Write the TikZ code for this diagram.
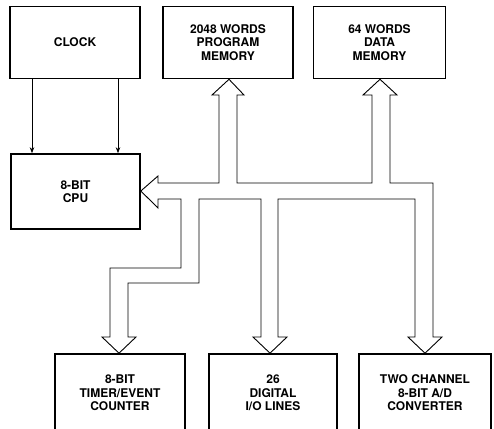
\documentclass[tikz,border=0pt]{standalone}
\usepackage{fontspec}
\setmainfont{TeX Gyre Heros}
\usetikzlibrary{arrows.meta}
\begin{document}
\begin{tikzpicture}[x=1pt,y=-1pt,
  box/.style={draw, line width=1.6pt, minimum height=72pt, align=center,
    font=\bfseries\fontsize{12}{13.5}\selectfont, inner sep=0pt},
  bus/.style={line width=0.9pt, line join=miter},
  clk/.style={line width=0.7pt, -{Stealth[length=6pt,width=4.5pt]}}]
\useasboundingbox (0,0) rectangle (494,428);
\clip (0,0) rectangle (494,428);
\node[box, minimum width=130pt] (clock) at (75,42.5) {CLOCK};
\node[box, minimum width=130pt] (pmem) at (228,42.5) {2048 WORDS\\PROGRAM\\MEMORY};
\node[box, minimum width=132pt] (dmem) at (379.5,42.5) {64 WORDS\\DATA\\MEMORY};
\node[box, minimum width=129pt, minimum height=75pt] (cpu) at (75.5,191.5) {8-BIT\\CPU};
\node[box, minimum width=130pt, minimum height=78pt] (timer) at (120,393) {8-BIT\\TIMER/EVENT\\COUNTER};
\node[box, minimum width=128pt, minimum height=78pt] (dio) at (273,393) {26\\DIGITAL\\I/O LINES};
\node[box, minimum width=132pt, minimum height=78pt] (adc) at (425,393) {TWO CHANNEL\\8-BIT A/D\\CONVERTER};
% clock lines
\draw[clk] (clock.south -| 32,0) -- (cpu.north -| 32,0);
\draw[clk] (clock.south -| 118,0) -- (cpu.north -| 118,0);
% bus outline
\draw[bus] (158,176) -- (cpu.east |- 0,191) -- (158,208) -- (158,199) -- (181,199)
  -- (181,268) -- (110,268) -- (110,337) -- (102,337) -- (timer.north -| 119,0)
  -- (136,337) -- (128,337) -- (128,283) -- (199,283) -- (199,199) -- (261,199)
  -- (261,337) -- (253,337) -- (dio.north -| 270,0) -- (287,337) -- (278,337)
  -- (278,199) -- (415,199) -- (415,337) -- (408,337) -- (adc.north -| 425,0)
  -- (442,337) -- (433,337) -- (433,183) -- (390,183) -- (390,95) -- (397,95)
  -- (dmem.south -| 380,0) -- (363,95) -- (372,95) -- (372,183) -- (237,183)
  -- (237,95) -- (244,95) -- (pmem.south -| 229,0) -- (212,95) -- (219,95)
  -- (219,183) -- (158,183) -- cycle;
\end{tikzpicture}
\end{document}
